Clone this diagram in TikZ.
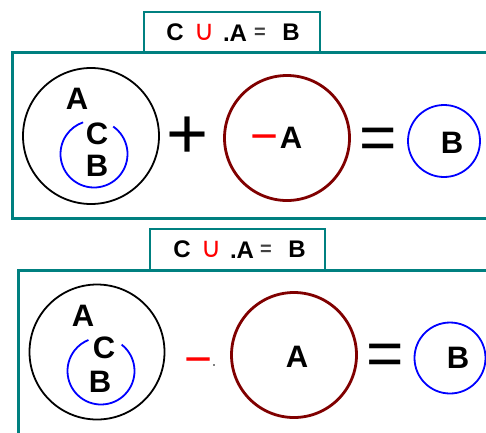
\documentclass[tikz,border=0pt]{standalone}
\usepackage{fontspec}
\setmainfont{Liberation Sans}
\newfontfamily\symfont{DejaVu Sans}
\definecolor{tealbox}{RGB}{0,128,128}
\definecolor{darkredc}{RGB}{128,0,0}
\definecolor{bluec}{RGB}{0,0,255}
\definecolor{redc}{RGB}{255,0,0}
\tikzset{
  panel/.style={draw=tealbox, line width=3pt},
  titlebox/.style={draw=tealbox, line width=2.2pt},
  bigset/.style={draw=black, line width=1.8pt},
  subset/.style={draw=bluec, line width=1.8pt},
  minusset/.style={draw=darkredc, line width=2.8pt},
  letter/.style={inner sep=0pt, font=\fontsize{31}{31}\selectfont\bfseries},
  titletext/.style={inner sep=0pt, font=\fontsize{24}{24}\selectfont\bfseries},
  opplus/.style={inner sep=0pt, font=\fontsize{72}{72}\selectfont},
  opeq/.style={inner sep=0pt, font=\fontsize{64}{64}\selectfont},
  opminus/.style={inner sep=0pt, text=redc, font=\fontsize{48}{48}\selectfont},
}
\begin{document}
\begin{tikzpicture}[x=1pt,y=-1pt]
\useasboundingbox (0,0) rectangle (486,432);
\fill[white] (0,0) rectangle (486,432);
\clip (0,0) rectangle (486,432);

% ---------- top panel ----------
\draw[panel] (12,52) rectangle (500,218);
\draw[titlebox, fill=white] (144,12) rectangle (320,52);
\node[titletext] (t1C) at (175,32) {C};
\node[titletext, text=redc] (t1U) at (204,32) {\symfont\mdseries\fontsize{28}{28}\selectfont ∪};
\node[titletext] (t1A) at (235,33) {.A};
\node[titletext, text=darkgray] (t1E) at (260,33) {\fontsize{20}{20}\selectfont =};
\node[titletext] (t1B) at (291,32) {B};

\draw[bigset] (91,136) circle[radius=68];
\draw[subset] (94,154) ++(-55:33.5) arc[start angle=-55, end angle=251, radius=33.5];
\node[letter] (p1A) at (77,99) {A};
\node[letter] (p1C) at (97,134) {C};
\node[letter] (p1B) at (97,166) {B};

\node[opplus] (p1plus) at (188,138) {+};

\draw[minusset] (287,138) circle[radius=62.5];
\node[opminus] (p1minus) at (265,144) {−};
\node[letter] (p1A2) at (291,138) {A};

\node[opeq] (p1eq) at (378,144) {=};

\draw[subset] (444,141) circle[radius=36];
\node[letter] (p1B2) at (452,143) {B};

% ---------- bottom panel ----------
\draw[panel] (18,270) rectangle (500,450);
\draw[titlebox, fill=white] (150,229) rectangle (325,270);
\node[titletext] (t2C) at (182,249) {C};
\node[titletext, text=redc] (t2U) at (211,249) {\symfont\mdseries\fontsize{28}{28}\selectfont ∪};
\node[titletext] (t2A) at (242,250) {.A};
\node[titletext, text=darkgray] (t2E) at (266,250) {\fontsize{20}{20}\selectfont =};
\node[titletext] (t2B) at (297,249) {B};

\draw[bigset] (97,352) circle[radius=67.5];
\draw[subset] (101,371) ++(-52:33.5) arc[start angle=-52, end angle=248, radius=33.5];
\node[letter] (p2A) at (83,316) {A};
\node[letter] (p2C) at (104,348) {C};
\node[letter] (p2B) at (100,382) {B};

\node[opminus] (p2minus) at (199,367) {−};
\fill[black] (214,365) circle[radius=0.9];

\draw[minusset] (294,355) circle[radius=62.5];
\node[letter] (p2A2) at (297,357) {A};

\node[opeq] (p2eq) at (385,360) {=};

\draw[subset] (450,358) circle[radius=35.5];
\node[letter] (p2B2) at (458,358) {B};
\end{tikzpicture}
\end{document}
